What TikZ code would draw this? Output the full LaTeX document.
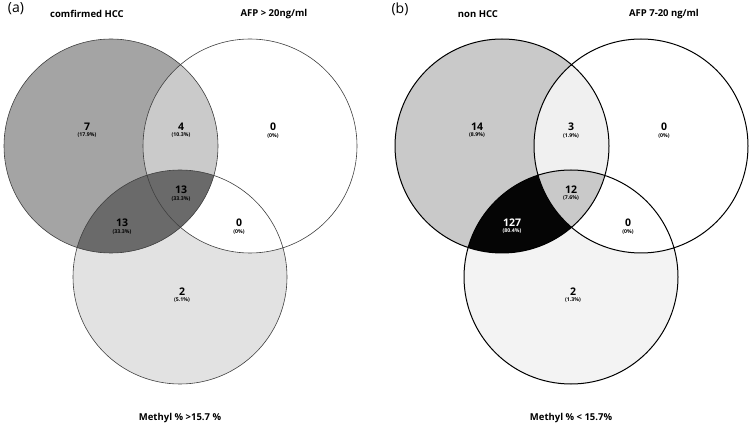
\documentclass[tikz,border=0pt]{standalone}
\usepackage{fontspec}
\setmainfont{Open Sans}
\usetikzlibrary{positioning}

\definecolor{lA}{HTML}{A4A4A4}
\definecolor{lAB}{HTML}{CACACA}
\definecolor{lAC}{HTML}{6A6A6A}
\definecolor{lC}{HTML}{E2E2E2}
\definecolor{rA}{HTML}{C9C9C9}
\definecolor{rAB}{HTML}{F0F0F0}
\definecolor{rAC}{HTML}{050505}
\definecolor{rC}{HTML}{F3F3F3}

\begin{document}
\begin{tikzpicture}[
  x=1pt, y=-1pt,
  cnt/.style={font=\bfseries\fontsize{10.5}{12}\selectfont, inner sep=0pt},
  pct/.style={font=\bfseries\fontsize{5.2}{6}\selectfont, inner sep=0pt, below=2pt of #1},
  ttl/.style={font=\bfseries\fontsize{9.5}{11}\selectfont, inner sep=0pt},
  tag/.style={font=\fontsize{14}{16}\selectfont, inner sep=0pt},
  thinring/.style={draw=black!75, line width=0.6pt},
  thickring/.style={draw=black, line width=1pt}
]
  \useasboundingbox[fill=white] (0,0) rectangle (752,427);

  % (a) confirmed HCC
  \coordinate (la) at (111,146);
  \coordinate (lb) at (250,146);
  \coordinate (lc) at (180,277);
  \fill[lC] (lc) circle (107pt);
  \fill[white] (lb) circle (107pt);
  \fill[lA] (la) circle (107pt);
  \begin{scope}
    \clip (la) circle (107pt);
    \fill[lAB] (lb) circle (107pt);
    \fill[lAC] (lc) circle (107pt);
  \end{scope}
  \draw[thinring] (la) circle (107pt) (lb) circle (107pt) (lc) circle (107pt);

  \node[tag] (taga) at (16,9) {(a)};
  \node[ttl] (hcc) at (87,14) {comfirmed HCC};
  \node[ttl] (afpa) at (274,14) {AFP > 20ng/ml};
  \node[ttl] (meta) at (180,418) {Methyl \% >15.7 \%};

  \node[cnt] (a1) at (87,127) {7};
  \node[pct=a1] (a1p) {(17.9\%)};
  \node[cnt] (a2) at (181,127) {4};
  \node[pct=a2] (a2p) {(10.3\%)};
  \node[cnt] (a3) at (273,127) {0};
  \node[pct=a3] (a3p) {(0\%)};
  \node[cnt] (a4) at (181,190) {13};
  \node[pct=a4] (a4p) {(33.3\%)};
  \node[cnt] (a5) at (122,223) {13};
  \node[pct=a5] (a5p) {(33.3\%)};
  \node[cnt] (a6) at (239,223) {0};
  \node[pct=a6] (a6p) {(0\%)};
  \node[cnt] (a7) at (182,292) {2};
  \node[pct=a7] (a7p) {(5.1\%)};

  % (b) non HCC
  \coordinate (ra) at (502,146);
  \coordinate (rb) at (641,146);
  \coordinate (rc) at (571,277);
  \fill[rC] (rc) circle (107pt);
  \fill[white] (rb) circle (107pt);
  \fill[rA] (ra) circle (107pt);
  \begin{scope}
    \clip (ra) circle (107pt);
    \fill[rAB] (rb) circle (107pt);
    \fill[rAC] (rc) circle (107pt);
    \clip (rb) circle (107pt);
    \fill[rA] (rc) circle (107pt);
  \end{scope}
  \draw[thickring] (ra) circle (107pt) (rb) circle (107pt) (rc) circle (107pt);

  \node[tag] (tagb) at (400,9) {(b)};
  \node[ttl] (non) at (478,14) {non HCC};
  \node[ttl] (afpb) at (664,14) {AFP 7-20 ng/ml};
  \node[ttl] (metb) at (571,418) {Methyl \% < 15.7\%};

  \node[cnt] (b1) at (477,127) {14};
  \node[pct=b1] (b1p) {(8.9\%)};
  \node[cnt] (b2) at (571,127) {3};
  \node[pct=b2] (b2p) {(1.9\%)};
  \node[cnt] (b3) at (664,127) {0};
  \node[pct=b3] (b3p) {(0\%)};
  \node[cnt] (b4) at (571,190) {12};
  \node[pct=b4] (b4p) {(7.6\%)};
  \node[cnt, text=white] (b5) at (512,223) {127};
  \node[pct=b5, text=white] (b5p) {(80.4\%)};
  \node[cnt] (b6) at (628,223) {0};
  \node[pct=b6] (b6p) {(0\%)};
  \node[cnt] (b7) at (573,292) {2};
  \node[pct=b7] (b7p) {(1.3\%)};
\end{tikzpicture}
\end{document}
